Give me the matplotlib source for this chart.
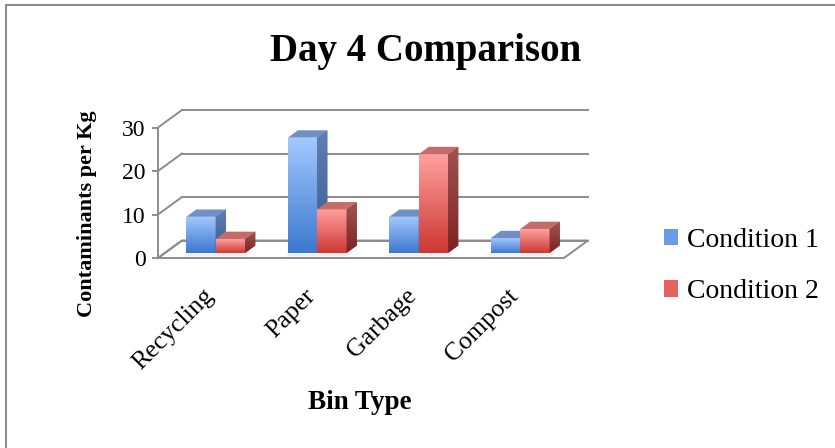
"""
Day 4 bin comparison drawn as an Excel-style 3D clustered column chart.
"""

import numpy as np
import matplotlib
matplotlib.use("Agg")
from matplotlib import pyplot as plt
from matplotlib.colors import LinearSegmentedColormap
from matplotlib.patches import Patch
from matplotlib.lines import Line2D

bins = ["Recycling", "Paper", "Garbage", "Compost"]
condition_1 = [8.3, 26.5, 8.3, 3.4]
condition_2 = [3.2, 10.0, 22.7, 5.5]
series_names = ["Condition 1", "Condition 2"]
y_ticks = [0, 10, 20, 30]

W, H = 835, 448
SERIF = ["Liberation Serif", "DejaVu Serif"]

# pixel layout of the front plane (category centre at x, value 0 at y)
X0_PX, X_UNIT = 208.75, 101.5
Y0_PX, Y_UNIT = 258.0, 4.35
# full depth of the floor, as data offsets
DX, DY = 24 / X_UNIT, 17.5 / Y_UNIT
# bars sit between these depth fractions
D0, D1 = 0.29, 0.71
BAR_W = 0.29

GRID = "#8c8c8c"

styles = [
    dict(light="#a3c8ff", dark="#3d78cf", side_top="#5f7fb3", side_bot="#3a5c95",
         top="#7090c4", legend="#6b9be6"),
    dict(light="#ffa09e", dark="#cd3833", side_top="#a05452", side_bot="#7b2422",
         top="#c46c6a", legend="#e8625f"),
]


def grad_fill(ax, verts_x, verts_y, c_top, c_bot, z):
    """Fill a polygon with a vertical colour gradient."""
    poly = ax.fill(verts_x, verts_y, color=c_bot, lw=0, zorder=z)[0]
    cmap = LinearSegmentedColormap.from_list("g", [c_bot, c_top])
    img = ax.imshow(np.linspace(0, 1, 64).reshape(-1, 1), cmap=cmap, origin="lower",
                    extent=[min(verts_x), max(verts_x), min(verts_y), max(verts_y)],
                    aspect="auto", interpolation="bilinear", zorder=z)
    img.set_clip_path(poly)


fig = plt.figure(figsize=(W / 100, H / 100), dpi=100)
ax = fig.add_axes([0, 0, 1, 1])
ax.patch.set_alpha(0)

# floor, back wall grid and side wall grid
fx = [-0.5, 3.5, 3.5 + DX, -0.5 + DX, -0.5]
fy = [0, 0, DY, DY, 0]
ax.fill(fx, fy, color="white", zorder=1)
ax.plot(fx, fy, color=GRID, lw=1.4, zorder=1)
for v in y_ticks:
    ax.plot([-0.5 + DX, 3.5 + DX], [v + DY, v + DY], color=GRID, lw=1.4, zorder=1)
    ax.plot([-0.5, -0.5 + DX], [v, v + DY], color=GRID, lw=1.4, zorder=1)

# faint shadow right under each bar pair
for i in range(len(bins)):
    sx = i - BAR_W + D0 * DX - 0.02
    ax.fill([sx, sx + 2 * BAR_W + 0.04, sx + 2 * BAR_W + 0.04 + DX * 0.2, sx + DX * 0.2],
            [D0 * DY - 0.8, D0 * DY - 0.8, D0 * DY + 0.6, D0 * DY + 0.6],
            color="#f0f0f0", lw=0, zorder=2)

z = 3
dd = D1 - D0
for i in range(len(bins)):
    for k, vals in enumerate([condition_1, condition_2]):
        st = styles[k]
        v = vals[i]
        xl = i - BAR_W + k * BAR_W + D0 * DX
        xr = xl + BAR_W
        bot = D0 * DY
        top = bot + v
        # front face
        grad_fill(ax, [xl, xr, xr, xl], [bot, bot, top, top], st["light"], st["dark"], z)
        # right side face
        grad_fill(ax, [xr, xr + dd * DX, xr + dd * DX, xr],
                  [bot, bot + dd * DY, top + dd * DY, top], st["side_top"], st["side_bot"], z)
        # top face
        ax.fill([xl, xr, xr + dd * DX, xl + dd * DX], [top, top, top + dd * DY, top + dd * DY],
                color=st["top"], lw=0, zorder=z + 0.5)
        z += 1

# value axis on the front left edge
for name in ["top", "right", "bottom"]:
    ax.spines[name].set_visible(False)
ax.spines["left"].set_position(("data", -0.5))
ax.spines["left"].set_bounds(0, 30)
ax.spines["left"].set_color(GRID)
ax.spines["left"].set_linewidth(1.4)
ax.spines["left"].set_zorder(1)
ax.set_xticks([])
ax.set_yticks(y_ticks)
ax.tick_params(axis="y", direction="out", length=4, width=1.4, color=GRID, pad=5,
               labelsize=17, labelcolor="black")
for lab in ax.get_yticklabels():
    lab.set_family(SERIF)

# category labels
for i, name in enumerate(bins):
    ax.text(i + 0.09, -6.2, name, rotation=45, ha="right", va="top",
            fontsize=18.5, family=SERIF)

ax.set_xlim(-X0_PX / X_UNIT, (W - X0_PX) / X_UNIT)
ax.set_ylim((Y0_PX - H) / Y_UNIT, Y0_PX / Y_UNIT)

fig.text(426 / W, 1 - 52 / H, "Day 4 Comparison", ha="center", va="center",
         fontsize=28, fontweight="bold", family=SERIF)
fig.text(87 / W, 1 - 214 / H, "Contaminants per Kg", rotation=90, ha="center", va="center",
         fontsize=16, fontweight="bold", family=SERIF)
fig.text(360 / W, 1 - 402 / H, "Bin Type", ha="center", va="center",
         fontsize=19.5, fontweight="bold", family=SERIF)

handles = [Patch(facecolor=s["legend"], edgecolor="none") for s in styles]
fig.legend(handles, series_names, loc="upper left", bbox_to_anchor=(664 / W, 1 - 228 / H),
           frameon=False, borderpad=0, borderaxespad=0, handlelength=0.52, handleheight=0.52,
           handletextpad=0.3, labelspacing=0.95, prop=dict(family=SERIF, size=20))

# chart area border
fig.add_artist(Line2D([5.5 / W, 5.5 / W], [0, 1 - 5.5 / H], transform=fig.transFigure,
                      color=GRID, lw=1.5))
fig.add_artist(Line2D([5.5 / W, 1], [1 - 5.5 / H, 1 - 5.5 / H], transform=fig.transFigure,
                      color=GRID, lw=1.5))

fig.savefig("out.png", dpi=100)
